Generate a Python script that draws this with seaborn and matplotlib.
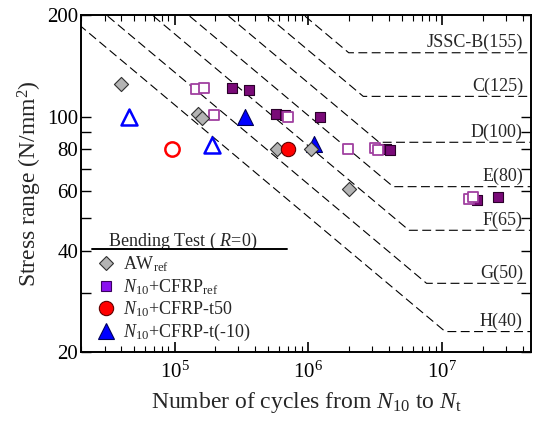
import numpy as np
import pandas as pd
import matplotlib
matplotlib.use("Agg")
import matplotlib.pyplot as plt
from matplotlib.lines import Line2D
from matplotlib.ticker import FixedLocator, FixedFormatter, LogLocator, NullFormatter
import seaborn as sns

# ---------------- data ----------------
# JSSC fatigue design categories
cat_names = ["JSSC-B(155)", "C(125)", "D(100)", "E(80)", "F(65)", "G(50)", "H(40)"]
cat_strength = [155, 125, 100, 80, 65, 50, 40]      # stress range at 2e6 cycles
cat_cafl = [155, 115, 84, 62, 46, 32, 23]           # constant amplitude fatigue limit

aw_N = [4.0e4, 1.5e5, 1.6e5, 5.8e5, 1.05e6, 2.0e6]
aw_S = [125, 102, 99.5, 80, 80, 61]

cfrp_ref_filled_N = [2.7e5, 3.6e5, 5.7e5, 6.7e5, 1.23e6, 3.8e6, 4.1e6, 1.83e7, 2.6e7]
cfrp_ref_filled_S = [122, 120.5, 102, 101.5, 99.7, 80, 79.5, 56.7, 57.9]
cfrp_ref_open_N = [1.45e5, 1.66e5, 1.96e5, 7.0e5, 1.98e6, 3.15e6, 3.3e6, 1.57e7, 1.69e7]
cfrp_ref_open_S = [121, 122, 101.4, 99.7, 80, 80.5, 79.7, 56.9, 57.9]

t50_filled_N = [7.05e5]
t50_filled_S = [80]
t50_open_N = [9.5e4]
t50_open_S = [80]

tm10_filled_N = [3.35e5, 1.11e6]
tm10_filled_S = [100, 83]
tm10_open_N = [4.6e4, 1.91e5]
tm10_open_S = [100, 82.5]

legend_title = "   Bending Test ( $\\it{R}$=0)"
legend_labels = ["AW$_{\\rm ref}$",
                 "$N_{\\rm 10}$+CFRP$_{\\rm ref}$",
                 "$N_{\\rm 10}$+CFRP-t50",
                 "$N_{\\rm 10}$+CFRP-t(-10)"]
yticks = [20, 30, 40, 50, 60, 70, 80, 90, 100, 200]
yticklabels = ["20", "", "40", "", "60", "", "80", "", "100", "200"]

# ---------------- style ----------------
sns.set_style("ticks")
plt.rcParams["font.family"] = ["Liberation Serif", "DejaVu Serif"]
plt.rcParams["mathtext.fontset"] = "custom"
plt.rcParams["mathtext.rm"] = "Liberation Serif"
plt.rcParams["mathtext.it"] = "Liberation Serif:italic"
plt.rcParams["mathtext.bf"] = "Liberation Serif:bold"

fig = plt.figure(figsize=(5.33, 4.23), dpi=100)
ax = fig.add_axes([81 / 533, 1 - 352 / 423, 450 / 533, 336.5 / 423])
ax.set_xscale("log")
ax.set_yscale("log")
ax.set_xlim(2e4, 4.6e7)
ax.set_ylim(20, 200)

# S-N design curves
for name, fs, cafl in zip(cat_names, cat_strength, cat_cafl):
    n_knee = 2e6 * (fs / cafl) ** 3
    Ns = np.array([1e4, n_knee, 1e8])
    Ss = np.array([fs * (2e6 / 1e4) ** (1 / 3), cafl, cafl])
    ax.plot(Ns, Ss, color="black", lw=0.8, ls=(0, (8, 4)), zorder=1)
    ax.text(4.0e7, cafl * 1.01, name, ha="right", va="bottom", fontsize=13, zorder=2)

# data points
ms_tri, ms_sq, ms_dia, ms_cir = 11.5, 6.8, 7.2, 10.3
sns.scatterplot(x=tm10_filled_N, y=tm10_filled_S, marker="^", s=ms_tri**2, color="#0000ff",
                edgecolor="#00005a", linewidth=0.8, ax=ax, zorder=3)
sns.scatterplot(x=tm10_open_N, y=tm10_open_S, marker="^", s=ms_tri**2, color="white",
                edgecolor="#0000ff", linewidth=1.8, ax=ax, zorder=3)
sns.scatterplot(x=cfrp_ref_filled_N, y=cfrp_ref_filled_S, marker="s", s=ms_sq**2, color="#7a0a78",
                edgecolor="#2a002a", linewidth=0.8, ax=ax, zorder=4)
sns.scatterplot(x=cfrp_ref_open_N, y=cfrp_ref_open_S, marker="s", s=ms_sq**2, color="white",
                edgecolor="#a040a0", linewidth=1.3, ax=ax, zorder=5)
sns.scatterplot(x=aw_N, y=aw_S, marker="D", s=ms_dia**2, color="#b4b4b4",
                edgecolor="#303030", linewidth=0.8, ax=ax, zorder=6)
sns.scatterplot(x=t50_filled_N, y=t50_filled_S, marker="o", s=ms_cir**2, color="#ff0000",
                edgecolor="#600000", linewidth=0.8, ax=ax, zorder=7)
sns.scatterplot(x=t50_open_N, y=t50_open_S, marker="o", s=ms_cir**2, color="white",
                edgecolor="#ff0000", linewidth=1.8, ax=ax, zorder=7)

# axes formatting
ax.yaxis.set_major_locator(FixedLocator(yticks))
ax.yaxis.set_major_formatter(FixedFormatter(yticklabels))
ax.yaxis.set_minor_locator(FixedLocator([]))
ax.xaxis.set_major_locator(LogLocator(base=10))
ax.xaxis.set_minor_locator(LogLocator(base=10, subs=np.arange(2, 10)))
ax.xaxis.set_minor_formatter(NullFormatter())
ax.tick_params(which="both", direction="in", top=True, right=True, colors="black",
               labelsize=15)
ax.tick_params(axis="y", which="major", length=7, width=1.0, pad=2)
ax.tick_params(axis="x", which="major", length=7, width=1.2, pad=7)
ax.tick_params(axis="x", which="minor", length=4.5, width=0.8)
for sp in ax.spines.values():
    sp.set_linewidth(1.4)
    sp.set_color("black")

ax.set_xlabel("Number of cycles from $N_{\\rm 10}$ to $N_{\\rm t}$", fontsize=17, labelpad=5)
ax.set_ylabel("Stress range (N/mm$^2$)", fontsize=17, labelpad=2)

# legend
handles = [
    Line2D([], [], ls="none", marker="D", markersize=ms_dia, mfc="#b4b4b4", mec="#303030", mew=0.8),
    Line2D([], [], ls="none", marker="s", markersize=ms_sq, mfc="#8a10f0", mec="#3a0060", mew=0.8),
    Line2D([], [], ls="none", marker="o", markersize=ms_cir, mfc="#ff0000", mec="#600000", mew=0.8),
    Line2D([], [], ls="none", marker="^", markersize=ms_tri, mfc="#0000ff", mec="#00005a", mew=0.8),
]
leg = ax.legend(handles, legend_labels, title=legend_title, loc="lower left",
                bbox_to_anchor=(0.011, 0.0), frameon=False, fontsize=13, title_fontsize=13,
                handlelength=1.2, handletextpad=0.35, labelspacing=0.15, borderaxespad=0.2,
                borderpad=0.3)
leg._legend_box.align = "left"
ax.plot([0.024, 0.458], [0.306, 0.306], transform=ax.transAxes, color="black", lw=1.4,
        clip_on=False, zorder=8)

fig.savefig("out.png", dpi=100)
